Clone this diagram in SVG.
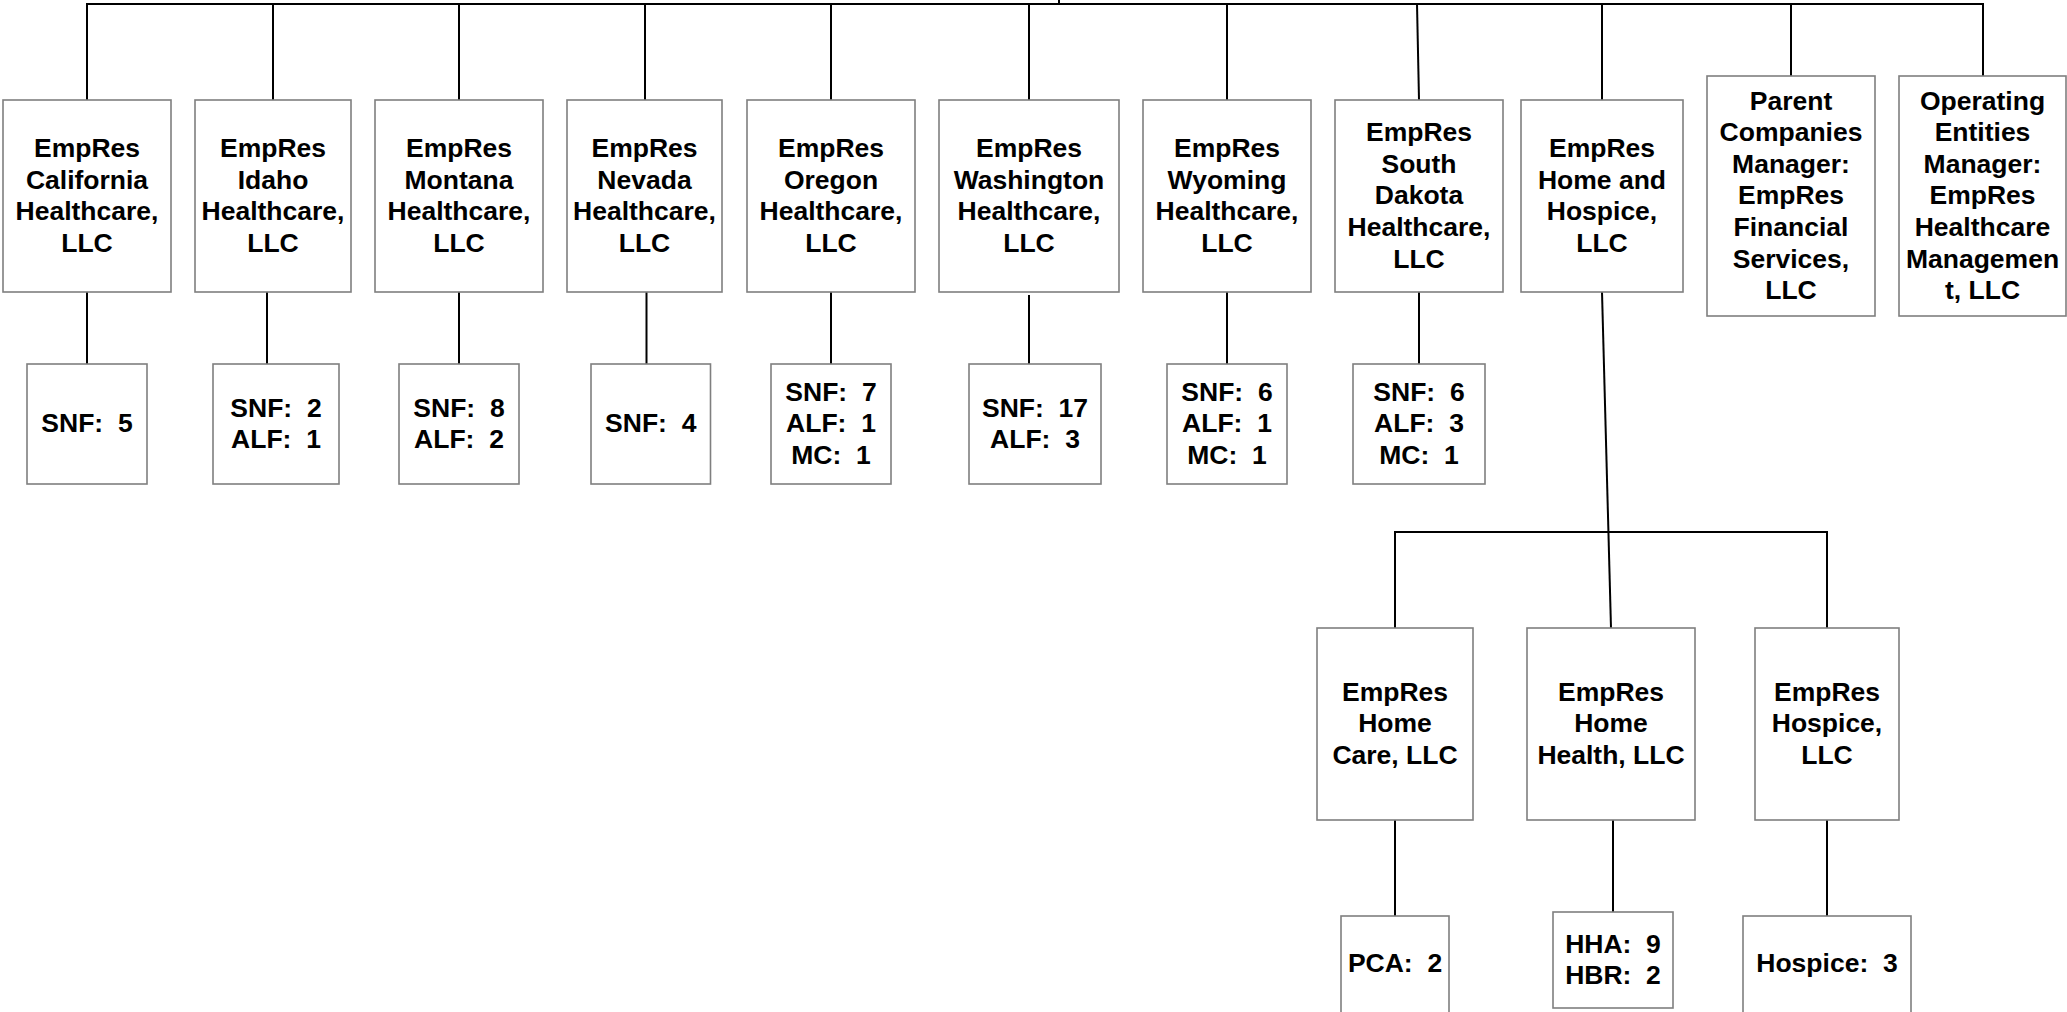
<svg xmlns="http://www.w3.org/2000/svg" width="2067" height="1012" viewBox="0 0 2067 1012">
<style>
  .box { fill: #ffffff; stroke: #7f7f7f; stroke-width: 1.6; }
  .t { font-family: "Liberation Sans", Arial, sans-serif; font-weight: bold; font-size: 26.5px; fill: #000000; text-anchor: middle; white-space: pre; }
  .c { stroke: #000000; stroke-width: 2; fill: none; }
</style>
<rect x="0" y="0" width="2067" height="1012" fill="#ffffff"/>
<g id="connectors">
  <line class="c" x1="1059" y1="0" x2="1059" y2="4"/>
  <line class="c" x1="86" y1="4" x2="1984" y2="4"/>
  <line class="c" x1="87" y1="4" x2="87" y2="100"/>
  <line class="c" x1="273" y1="4" x2="273" y2="100"/>
  <line class="c" x1="459" y1="4" x2="459" y2="100"/>
  <line class="c" x1="645" y1="4" x2="645" y2="100"/>
  <line class="c" x1="831" y1="4" x2="831" y2="100"/>
  <line class="c" x1="1029" y1="4" x2="1029" y2="100"/>
  <line class="c" x1="1227" y1="4" x2="1227" y2="100"/>
  <line class="c" x1="1417" y1="4" x2="1419" y2="100"/>
  <line class="c" x1="1602" y1="4" x2="1602" y2="100"/>
  <line class="c" x1="1791" y1="4" x2="1791" y2="76"/>
  <line class="c" x1="1983" y1="4" x2="1983" y2="76"/>
  <line class="c" x1="87" y1="292" x2="87" y2="364"/>
  <line class="c" x1="267" y1="292" x2="267" y2="366"/>
  <line class="c" x1="459" y1="292" x2="459" y2="364"/>
  <line class="c" x1="646.5" y1="290" x2="646.5" y2="364"/>
  <line class="c" x1="831" y1="292" x2="831" y2="364"/>
  <line class="c" x1="1029" y1="295" x2="1029" y2="368"/>
  <line class="c" x1="1227" y1="292" x2="1227" y2="364"/>
  <line class="c" x1="1419" y1="292" x2="1419" y2="364"/>
  <line class="c" x1="1602" y1="292" x2="1611" y2="628"/>
  <line class="c" x1="1394" y1="532" x2="1828" y2="532"/>
  <line class="c" x1="1395" y1="532" x2="1395" y2="628"/>
  <line class="c" x1="1827" y1="532" x2="1827" y2="628"/>
  <line class="c" x1="1395" y1="820" x2="1395" y2="916"/>
  <line class="c" x1="1613" y1="815" x2="1613" y2="912"/>
  <line class="c" x1="1827" y1="820" x2="1827" y2="916"/>
</g>
<g id="california">
  <rect class="box" x="3" y="100" width="168" height="192"/>
  <text class="t"><tspan x="87" y="157">EmpRes</tspan><tspan x="87" y="188.6">California</tspan><tspan x="87" y="220.2">Healthcare,</tspan><tspan x="87" y="251.8">LLC</tspan></text>
</g>
<g id="idaho">
  <rect class="box" x="195" y="100" width="156" height="192"/>
  <text class="t"><tspan x="273" y="157">EmpRes</tspan><tspan x="273" y="188.6">Idaho</tspan><tspan x="273" y="220.2">Healthcare,</tspan><tspan x="273" y="251.8">LLC</tspan></text>
</g>
<g id="montana">
  <rect class="box" x="375" y="100" width="168" height="192"/>
  <text class="t"><tspan x="459" y="157">EmpRes</tspan><tspan x="459" y="188.6">Montana</tspan><tspan x="459" y="220.2">Healthcare,</tspan><tspan x="459" y="251.8">LLC</tspan></text>
</g>
<g id="nevada">
  <rect class="box" x="567" y="100" width="155" height="192"/>
  <text class="t"><tspan x="644.5" y="157">EmpRes</tspan><tspan x="644.5" y="188.6">Nevada</tspan><tspan x="644.5" y="220.2">Healthcare,</tspan><tspan x="644.5" y="251.8">LLC</tspan></text>
</g>
<g id="oregon">
  <rect class="box" x="747" y="100" width="168" height="192"/>
  <text class="t"><tspan x="831" y="157">EmpRes</tspan><tspan x="831" y="188.6">Oregon</tspan><tspan x="831" y="220.2">Healthcare,</tspan><tspan x="831" y="251.8">LLC</tspan></text>
</g>
<g id="washington">
  <rect class="box" x="939" y="100" width="180" height="192"/>
  <text class="t"><tspan x="1029" y="157">EmpRes</tspan><tspan x="1029" y="188.6">Washington</tspan><tspan x="1029" y="220.2">Healthcare,</tspan><tspan x="1029" y="251.8">LLC</tspan></text>
</g>
<g id="wyoming">
  <rect class="box" x="1143" y="100" width="168" height="192"/>
  <text class="t"><tspan x="1227" y="157">EmpRes</tspan><tspan x="1227" y="188.6">Wyoming</tspan><tspan x="1227" y="220.2">Healthcare,</tspan><tspan x="1227" y="251.8">LLC</tspan></text>
</g>
<g id="south-dakota">
  <rect class="box" x="1335" y="100" width="168" height="192"/>
  <text class="t"><tspan x="1419" y="141.2">EmpRes</tspan><tspan x="1419" y="172.8">South</tspan><tspan x="1419" y="204.4">Dakota</tspan><tspan x="1419" y="236">Healthcare,</tspan><tspan x="1419" y="267.6">LLC</tspan></text>
</g>
<g id="home-and-hospice">
  <rect class="box" x="1521" y="100" width="162" height="192"/>
  <text class="t"><tspan x="1602" y="157">EmpRes</tspan><tspan x="1602" y="188.6">Home and</tspan><tspan x="1602" y="220.2">Hospice,</tspan><tspan x="1602" y="251.8">LLC</tspan></text>
</g>
<g id="parent-manager">
  <rect class="box" x="1707" y="76" width="168" height="240"/>
  <text class="t"><tspan x="1791" y="109.6">Parent</tspan><tspan x="1791" y="141.2">Companies</tspan><tspan x="1791" y="172.8">Manager:</tspan><tspan x="1791" y="204.4">EmpRes</tspan><tspan x="1791" y="236">Financial</tspan><tspan x="1791" y="267.6">Services,</tspan><tspan x="1791" y="299.2">LLC</tspan></text>
</g>
<g id="operating-manager">
  <rect class="box" x="1899" y="76" width="167" height="240"/>
  <text class="t"><tspan x="1982.5" y="109.6">Operating</tspan><tspan x="1982.5" y="141.2">Entities</tspan><tspan x="1982.5" y="172.8">Manager:</tspan><tspan x="1982.5" y="204.4">EmpRes</tspan><tspan x="1982.5" y="236">Healthcare</tspan><tspan x="1982.5" y="267.6">Managemen</tspan><tspan x="1982.5" y="299.2">t, LLC</tspan></text>
</g>
<g id="california-facilities">
  <rect class="box" x="27" y="364" width="120" height="120"/>
  <text class="t"><tspan x="87" y="432.4">SNF:  5</tspan></text>
</g>
<g id="idaho-facilities">
  <rect class="box" x="213" y="364" width="126" height="120"/>
  <text class="t"><tspan x="276" y="416.6">SNF:  2</tspan><tspan x="276" y="448.2">ALF:  1</tspan></text>
</g>
<g id="montana-facilities">
  <rect class="box" x="399" y="364" width="120" height="120"/>
  <text class="t"><tspan x="459" y="416.6">SNF:  8</tspan><tspan x="459" y="448.2">ALF:  2</tspan></text>
</g>
<g id="nevada-facilities">
  <rect class="box" x="591" y="364" width="119.5" height="120"/>
  <text class="t"><tspan x="650.75" y="432.4">SNF:  4</tspan></text>
</g>
<g id="oregon-facilities">
  <rect class="box" x="771" y="364" width="120" height="120"/>
  <text class="t"><tspan x="831" y="400.8">SNF:  7</tspan><tspan x="831" y="432.4">ALF:  1</tspan><tspan x="831" y="464">MC:  1</tspan></text>
</g>
<g id="washington-facilities">
  <rect class="box" x="969" y="364" width="132" height="120"/>
  <text class="t"><tspan x="1035" y="416.6">SNF:  17</tspan><tspan x="1035" y="448.2">ALF:  3</tspan></text>
</g>
<g id="wyoming-facilities">
  <rect class="box" x="1167" y="364" width="120" height="120"/>
  <text class="t"><tspan x="1227" y="400.8">SNF:  6</tspan><tspan x="1227" y="432.4">ALF:  1</tspan><tspan x="1227" y="464">MC:  1</tspan></text>
</g>
<g id="south-dakota-facilities">
  <rect class="box" x="1353" y="364" width="132" height="120"/>
  <text class="t"><tspan x="1419" y="400.8">SNF:  6</tspan><tspan x="1419" y="432.4">ALF:  3</tspan><tspan x="1419" y="464">MC:  1</tspan></text>
</g>
<g id="home-care">
  <rect class="box" x="1317" y="628" width="156" height="192"/>
  <text class="t"><tspan x="1395" y="700.8">EmpRes</tspan><tspan x="1395" y="732.4">Home</tspan><tspan x="1395" y="764">Care, LLC</tspan></text>
</g>
<g id="home-health">
  <rect class="box" x="1527" y="628" width="168" height="192"/>
  <text class="t"><tspan x="1611" y="700.8">EmpRes</tspan><tspan x="1611" y="732.4">Home</tspan><tspan x="1611" y="764">Health, LLC</tspan></text>
</g>
<g id="hospice">
  <rect class="box" x="1755" y="628" width="144" height="192"/>
  <text class="t"><tspan x="1827" y="700.8">EmpRes</tspan><tspan x="1827" y="732.4">Hospice,</tspan><tspan x="1827" y="764">LLC</tspan></text>
</g>
<g id="pca">
  <rect class="box" x="1341" y="916" width="108" height="97"/>
  <text class="t"><tspan x="1395" y="972">PCA:  2</tspan></text>
</g>
<g id="hha-hbr">
  <rect class="box" x="1553" y="912" width="120" height="96"/>
  <text class="t"><tspan x="1613" y="952.6">HHA:  9</tspan><tspan x="1613" y="984.2">HBR:  2</tspan></text>
</g>
<g id="hospice-facilities">
  <rect class="box" x="1743" y="916" width="168" height="97"/>
  <text class="t"><tspan x="1827" y="972">Hospice:  3</tspan></text>
</g>
</svg>
